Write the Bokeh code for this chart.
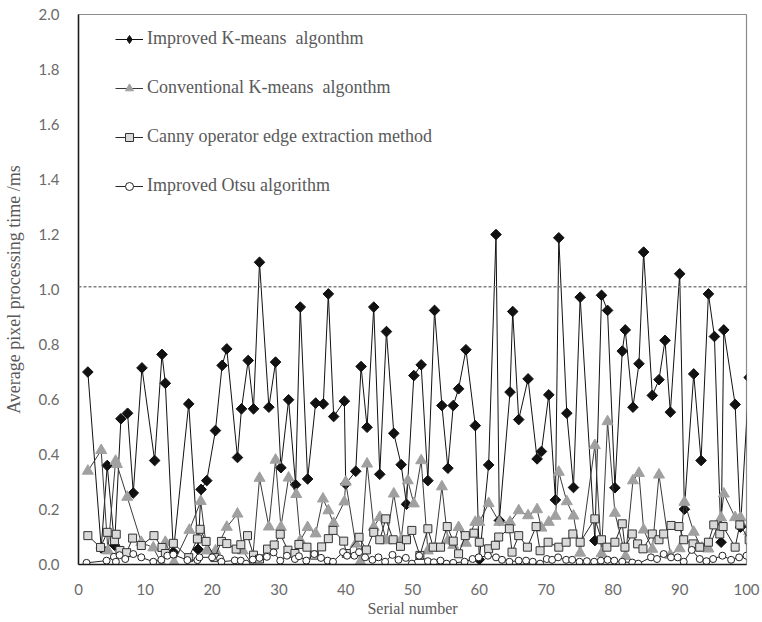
from bokeh.plotting import figure
from bokeh.models import Range1d, Span, Legend, LegendItem, FixedTicker, PrintfTickFormatter
from bokeh.embed import file_html
from bokeh.resources import INLINE

x_ticks = [0, 10, 20, 30, 40, 50, 60, 70, 80, 90, 100]
y_ticks = [0.0, 0.2, 0.4, 0.6, 0.8, 1.0, 1.2, 1.4, 1.6, 1.8, 2.0]
ref_level = 1.01

names = ["Improved K-means  algonthm", "Conventional K-means  algonthm",
         "Canny operator edge extraction method", "Improved Otsu algorithm"]

ikm_x = [
    1.4, 3.4, 4.3, 5.4, 6.35, 7.35, 8.2, 9.5, 11.4, 12.5,
    13.0, 14.2, 16.5, 17.9, 18.35, 19.2, 20.5, 21.5, 22.2, 23.8,
    24.4, 25.4, 26.2, 27.1, 28.5, 29.5, 30.3, 31.45, 32.5, 33.2,
    34.3, 35.5, 36.65, 37.4, 38.2, 39.8, 40.0, 41.5, 42.3, 43.2,
    44.2, 45.1, 46.1, 47.2, 48.3, 49.1, 50.2, 51.3, 52.3, 53.3,
    54.4, 55.3, 56.1, 56.9, 58.0, 59.4, 60.0, 61.4, 62.5, 63.0,
    64.6, 65.0, 65.9, 67.3, 68.65, 69.3, 70.4, 71.4, 71.9, 73.1,
    74.1, 75.1, 77.3, 78.3, 79.2, 80.3, 81.4, 81.85, 83.0, 83.9,
    84.6, 85.9, 86.9, 87.8, 88.6, 90.0, 90.7, 92.1, 93.2, 94.3,
    95.2, 96.2, 96.6, 98.3, 99.1, 100.4]
ikm_y = [
    0.70, 0.06, 0.36, 0.07, 0.53, 0.55, 0.26, 0.715, 0.378, 0.764,
    0.659, 0.045, 0.584, 0.055, 0.273, 0.305, 0.487, 0.724, 0.784, 0.389,
    0.566, 0.742, 0.566, 1.099, 0.572, 0.736, 0.352, 0.599, 0.290, 0.936,
    0.311, 0.587, 0.584, 0.984, 0.538, 0.594, 0.293, 0.339, 0.720, 0.499,
    0.936, 0.328, 0.847, 0.477, 0.363, 0.219, 0.687, 0.726, 0.305, 0.924,
    0.578, 0.350, 0.578, 0.639, 0.781, 0.505, 0.018, 0.362, 1.200, 0.160,
    0.627, 0.920, 0.527, 0.675, 0.384, 0.411, 0.617, 0.235, 1.188, 0.550,
    0.280, 0.972, 0.087, 0.979, 0.924, 0.279, 0.776, 0.853, 0.572, 0.730,
    1.136, 0.615, 0.672, 0.815, 0.554, 1.057, 0.201, 0.693, 0.378, 0.984,
    0.829, 0.081, 0.853, 0.582, 0.136, 0.68]

ckm_x = [
    1.4, 3.4, 4.4, 5.55, 5.75, 7.3, 9.4, 11.2, 12.5, 13.0,
    14.3, 16.6, 18.3, 19.2, 20.5, 22.2, 23.8, 24.6, 26.0, 27.1,
    28.5, 29.5, 30.3, 31.45, 32.6, 33.2, 34.3, 35.5, 36.6, 37.4,
    38.2, 39.8, 40.0, 41.5, 42.2, 43.2, 44.2, 45.1, 46.1, 47.2,
    48.3, 49.3, 50.2, 51.3, 52.3, 53.3, 54.4, 55.3, 56.1, 56.9,
    58.0, 59.4, 60.0, 61.4, 63.0, 64.6, 65.9, 67.3, 68.65, 69.3,
    70.4, 71.4, 71.9, 73.1, 74.1, 75.1, 77.3, 78.3, 79.2, 80.3,
    81.9, 83.0, 83.9, 84.6, 85.9, 86.9, 88.6, 90.0, 90.7, 92.1,
    93.3, 94.3, 96.2, 96.6, 98.3, 99.1, 100.4]
ckm_y = [
    0.34, 0.415, 0.05, 0.376, 0.364, 0.245, 0.081, 0.061, 0.0, 0.081,
    0.008, 0.125, 0.23, 0.05, 0.05, 0.136, 0.184, 0.05, 0.0, 0.314,
    0.137, 0.38, 0.136, 0.315, 0.255, 0.087, 0.135, 0.112, 0.239, 0.196,
    0.15, 0.228, 0.30, 0.075, 0.01, 0.366, 0.136, 0.172, 0.087, 0.257,
    0.09, 0.305, 0.221, 0.378, 0.05, 0.06, 0.283, 0.087, 0.07, 0.135,
    0.078, 0.154, 0.154, 0.222, 0.154, 0.154, 0.196, 0.178, 0.2, 0.133,
    0.154, 0.176, 0.336, 0.229, 0.177, 0.042, 0.433, 0.04, 0.52, 0.187,
    0.03, 0.305, 0.332, 0.126, 0.056, 0.326, 0.034, 0.058, 0.227, 0.118,
    0.06, 0.057, 0.17, 0.257, 0.171, 0.171, 0.12]

can_x = [
    1.4, 3.3, 4.3, 5.4, 5.65, 6.2, 7.2, 8.1, 9.4, 11.3,
    12.5, 13.0, 14.2, 16.5, 17.8, 18.2, 19.1, 20.4, 21.4, 22.2,
    23.6, 24.3, 25.3, 26.2, 27.1, 28.3, 29.3, 30.2, 31.35, 32.4,
    33.0, 34.2, 35.3, 36.4, 37.4, 38.1, 39.7, 40.1, 42.0, 43.1,
    44.2, 45.1, 46.0, 47.1, 48.2, 49.1, 49.9, 51.1, 52.3, 53.1,
    54.2, 55.2, 56.1, 56.9, 57.9, 59.2, 60.0, 61.4, 62.4, 62.9,
    64.5, 64.9, 65.9, 67.2, 68.5, 69.1, 70.3, 71.9, 73.0, 74.0,
    75.1, 77.3, 78.3, 79.1, 80.3, 81.4, 81.8, 82.9, 83.7, 84.5,
    85.9, 86.9, 87.6, 88.7, 89.9, 90.6, 92.0, 93.0, 94.3, 95.1,
    96.0, 96.5, 98.3, 99.0, 100.4]
can_y = [
    0.105, 0.062, 0.117, 0.087, 0.11, 0.051, 0.043, 0.096, 0.069, 0.105,
    0.062, 0.04, 0.077, 0.025, 0.093, 0.128, 0.084, 0.025, 0.084, 0.076,
    0.056, 0.072, 0.105, 0.034, 0.02, 0.056, 0.071, 0.11, 0.052, 0.04,
    0.073, 0.063, 0.034, 0.064, 0.094, 0.124, 0.085, 0.04, 0.099, 0.053,
    0.117, 0.09, 0.166, 0.09, 0.066, 0.09, 0.124, 0.033, 0.13, 0.063,
    0.063, 0.138, 0.085, 0.039, 0.105, 0.114, 0.081, 0.057, 0.07, 0.1,
    0.13, 0.045, 0.105, 0.063, 0.138, 0.05, 0.081, 0.063, 0.081, 0.111,
    0.081, 0.166, 0.09, 0.063, 0.081, 0.148, 0.063, 0.111, 0.075, 0.057,
    0.111, 0.09, 0.111, 0.142, 0.138, 0.09, 0.075, 0.063, 0.081, 0.144,
    0.111, 0.138, 0.063, 0.144, 0.09]

ots_x = [
    1.2, 4.2, 5.3, 5.6, 6.15, 7.0, 8.2, 9.4, 11.2, 12.4,
    13.3, 14.2, 16.3, 17.8, 18.1, 20.0, 21.2, 21.4, 23.4, 24.3,
    25.1, 26.1, 27.1, 28.2, 29.2, 30.2, 31.2, 32.4, 33.0, 34.1,
    35.3, 36.3, 37.3, 38.1, 39.6, 40.2, 41.3, 42.0, 42.9, 44.0,
    44.9, 45.9, 47.0, 47.9, 49.0, 49.9, 51.0, 52.3, 53.2, 54.2,
    55.1, 56.1, 57.8, 59.0, 59.9, 61.3, 62.5, 63.4, 64.5, 65.9,
    67.0, 68.0, 69.1, 70.1, 70.9, 71.8, 73.0, 73.9, 75.0, 76.1,
    77.2, 78.2, 79.2, 80.2, 81.4, 82.9, 83.8, 85.7, 86.6, 87.6,
    88.7, 89.7, 90.6, 91.8, 93.0, 94.0, 95.0, 96.4, 97.7, 98.9,
    100.0]
ots_y = [
    0.006, 0.014, 0.028, 0.01, 0.034, 0.02, 0.038, 0.026, 0.01, 0.017,
    0.032, 0.036, 0.016, 0.016, 0.026, 0.026, 0.022, 0.01, 0.015, 0.014,
    0.003, 0.018, 0.024, 0.028, 0.044, 0.014, 0.032, 0.02, 0.03, 0.014,
    0.038, 0.024, 0.014, 0.01, 0.045, 0.032, 0.032, 0.045, 0.026, 0.017,
    0.026, 0.01, 0.035, 0.017, 0.024, 0.003, 0.032, 0.012, 0.008, 0.014,
    0.003, 0.006, 0.01, 0.02, 0.026, 0.032, 0.026, 0.017, 0.01, 0.014,
    0.014, 0.01, 0.003, 0.02, 0.017, 0.026, 0.017, 0.017, 0.01, 0.012,
    0.01, 0.014, 0.017, 0.014, 0.01, 0.007, 0.003, 0.026, 0.02, 0.038,
    0.026, 0.026, 0.01, 0.053, 0.02, 0.012, 0.02, 0.032, 0.017, 0.026,
    0.032]

p = figure(width=762, height=622, output_backend="svg", toolbar_location=None,
           x_range=Range1d(0, 100), y_range=Range1d(0, 2.0),
           min_border_left=76, min_border_right=16, min_border_top=14, min_border_bottom=58)
p.background_fill_color = "white"
p.border_fill_color = "white"
p.outline_line_color = "#8c8c8c"
p.outline_line_width = 1.2
p.xgrid.grid_line_color = None
p.ygrid.grid_line_color = None

tick_color = "#6b6b6b"
for ax in (p.xaxis[0], p.yaxis[0]):
    ax.axis_line_color = "#1a1a1a"
    ax.axis_line_width = 1.5
    ax.major_tick_line_color = None
    ax.minor_tick_line_color = None
    ax.major_label_text_font = "Lato"
    ax.major_label_text_font_size = "15px"
    ax.major_label_text_color = tick_color
    ax.major_label_standoff = 13
    ax.axis_label_text_font = "Liberation Serif"
    ax.axis_label_text_font_style = "normal"
    ax.axis_label_text_color = "#595959"

p.xaxis.ticker = FixedTicker(ticks=x_ticks)
p.yaxis.ticker = FixedTicker(ticks=y_ticks)
p.yaxis.formatter = PrintfTickFormatter(format="%.1f")
p.xaxis.axis_label = "Serial number"
p.xaxis.axis_label_text_font_size = "16px"
p.xaxis.axis_label_standoff = 2
p.yaxis.axis_label = "Average pixel processing time /ms"
p.yaxis.axis_label_text_font_size = "18px"
p.yaxis.axis_label_standoff = 12

p.add_layout(Span(location=ref_level, dimension="width", line_color="#808080",
                  line_width=1.3, line_dash="3 2"))

line_col = "#262626"
r1l = p.line(ikm_x, ikm_y, line_color="#111111", line_width=1)
r1m = p.scatter(ikm_x, ikm_y, marker="square", angle=0.785398, size=7.5,
                fill_color="#111111", line_color="#111111")
r2l = p.line(ckm_x, ckm_y, line_color="#3a3a3a", line_width=1)
r2m = p.scatter(ckm_x, ckm_y, marker="triangle", size=11,
                fill_color="#a0a0a0", line_color="#a0a0a0")
r3l = p.line(can_x, can_y, line_color=line_col, line_width=1)
r3m = p.scatter(can_x, can_y, marker="square", size=8,
                fill_color="#d9d9d9", line_color="#333333", line_width=1)
r4l = p.line(ots_x, ots_y, line_color=line_col, line_width=1)
r4m = p.scatter(ots_x, ots_y, marker="circle", size=7,
                fill_color="white", line_color="#222222", line_width=1)

# legend-only markers (smaller, as in the reference key)
nan = [float("nan")]
lg1 = p.scatter(nan, nan, marker="diamond", size=11,
                fill_color="#111111", line_color="#111111")
lg2 = p.scatter(nan, nan, marker="triangle", size=9,
                fill_color="#a0a0a0", line_color="#a0a0a0")
lg3 = p.scatter(nan, nan, marker="square", size=7,
                fill_color="#d9d9d9", line_color="#333333", line_width=1)
lg4 = p.scatter(nan, nan, marker="circle", size=6,
                fill_color="white", line_color="#222222", line_width=1)

legend = Legend(items=[
    LegendItem(label=names[0], renderers=[r1l, lg1]),
    LegendItem(label=names[1], renderers=[r2l, lg2]),
    LegendItem(label=names[2], renderers=[r3l, lg3]),
    LegendItem(label=names[3], renderers=[r4l, lg4]),
], location=(37, 368), orientation="vertical")
legend.border_line_color = None
legend.background_fill_alpha = 0
legend.label_text_font = "Liberation Serif"
legend.label_text_font_size = "18px"
legend.label_text_color = "#595959"
legend.glyph_width = 28
legend.glyph_height = 20
legend.label_height = 20
legend.spacing = 28
legend.padding = 0
legend.margin = 0
legend.label_standoff = 4
p.add_layout(legend)

open("out.html", "w").write(file_html(p, INLINE))
